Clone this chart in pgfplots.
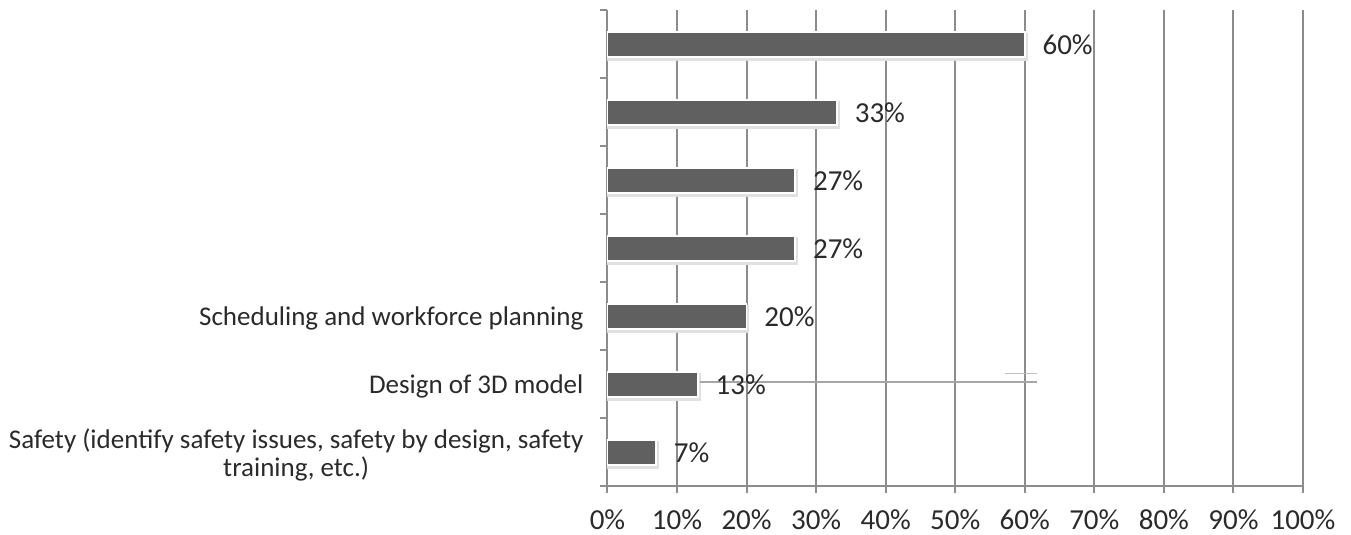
\documentclass[border=0pt]{standalone}
\usepackage{pgfplots}
\pgfplotsset{compat=1.18}
\usepackage{fontspec}
\setmainfont{Carlito}
\definecolor{barfill}{HTML}{606060}
\definecolor{gridc}{HTML}{8C8C8C}
\definecolor{txt}{HTML}{2A2A2A}
\begin{document}
\fontsize{14.5}{13.5}\selectfont
\begin{tikzpicture}
% fix the page to the reference size (1 px = 0.5 pt)
\path[use as bounding box] (-303.75pt,-24.25pt) rectangle (371.75pt,243.25pt);
\begin{axis}[
  at={(0,0)}, anchor=south west,
  width=347.75pt, height=238pt,
  scale only axis,
  xmin=0, xmax=100,
  ymin=-0.5, ymax=6.5,
  xtick={0,10,...,100},
  xticklabel={\pgfmathprintnumber{\tick}\%},
  xticklabel style={text=txt, yshift=-3pt},
  /pgf/number format/assume math mode=true,
  ytick={-0.5,0.5,...,6.5},
  yticklabels={},
  extra y ticks={0,1,2,3,4,5,6},
  extra y tick labels={{Safety (identify safety issues, safety by design, safety\\training, etc.)},
    Design of 3D model, Scheduling and workforce planning, {}, {}, {}, {}},
  extra y tick style={major tick length=0pt, grid=none,
    yticklabel style={align=center, text=txt, xshift=-7pt, yshift=-1pt, font=\fontsize{13.5}{14}\selectfont}},
  tick align=outside,
  major tick length=3.5pt,
  tick style={gridc, line width=1pt},
  axis x line*=bottom, axis y line*=left,
  axis line style={gridc, line width=1pt, -},
  xmajorgrids,
  major grid style={gridc, line width=1pt},
  clip=false,
]
\addplot[xbar, bar width=12.5pt, fill=barfill, draw=white, line width=0.8pt,
  preaction={draw=black!12, line width=1.6pt, transform canvas={xshift=0.6pt, yshift=-1.2pt}},
  nodes near coords={\pgfmathprintnumber{\pgfplotspointmeta}\%},
  nodes near coords align={horizontal},
  every node near coord/.append style={anchor=west, inner sep=0pt, xshift=8.5pt, text=txt,
    font=\fontsize{14.5}{13.5}\selectfont}]
  coordinates {
  (7,0) (13,1) (20,2) (27,3) (27,4) (33,5) (60,6)
};
% stray scan line in the source image
\addplot[forget plot, black!35, line width=1pt] coordinates {(13.3,1.03) (61.7,1.03)};
\addplot[forget plot, black!25, line width=0.8pt] coordinates {(57.2,1.16) (61.7,1.16)};
\end{axis}
\end{tikzpicture}
\end{document}
